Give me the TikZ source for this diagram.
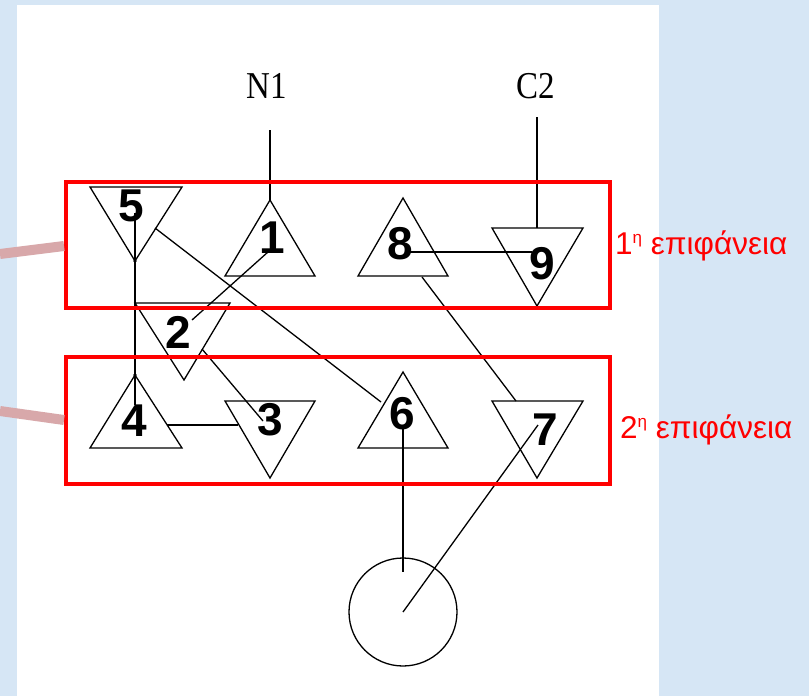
\documentclass[tikz,border=0pt]{standalone}
\usepackage{fontspec}
\setmainfont{Liberation Sans}
\newfontfamily\serifN{Liberation Serif}
\definecolor{bgblue}{RGB}{214,230,245}
\definecolor{pinkline}{RGB}{216,168,170}
\begin{document}
\begin{tikzpicture}[x=1pt,y=-1pt,
  tri/.style={draw=black,line width=1.3pt,line join=miter},
  wire/.style={draw=black,line width=1.3pt},
  thick wire/.style={draw=black,line width=1.8pt},
  num/.style={font=\fontsize{46}{52}\selectfont\bfseries,inner sep=0pt},
  surf/.style={draw=red,line width=4pt},
  pointer/.style={draw=pinkline,line width=10pt},
  lbl/.style={text=red,font=\fontsize{31.5}{36}\selectfont,anchor=base west,inner sep=0pt},
  term/.style={font=\serifN\fontsize{33}{40}\selectfont,inner sep=0pt,yscale=1.15}]
\fill[bgblue] (0,0) rectangle (809,696);
\fill[white] (17,5) rectangle (659,696);
\useasboundingbox (0,0) rectangle (809,696);

% triangles
\draw[tri] (90,187) -- (182,187) -- (135,261) -- cycle;   % 5
\draw[tri] (270,200) -- (315,276) -- (225,276) -- cycle;  % 1
\draw[tri] (135,303) -- (230,303) -- (184,380) -- cycle;  % 2
\draw[tri] (135,375) -- (182,448) -- (90,448) -- cycle;   % 4
\draw[tri] (225,401) -- (315,401) -- (270,478) -- cycle;  % 3
\draw[tri] (403,198) -- (448,276) -- (358,276) -- cycle;  % 8
\draw[tri] (492,228) -- (583,228) -- (537,306) -- cycle;  % 9
\draw[tri] (403,372) -- (448,448) -- (358,448) -- cycle;  % 6
\draw[tri] (492,401) -- (583,401) -- (537,478) -- cycle;  % 7

% circle
\node[draw=black,line width=1.3pt,circle,minimum size=108pt,inner sep=0pt] (c) at (403,612) {};

% connector endpoints
\coordinate (n1top) at (270,130);
\coordinate (t1a) at (270,200);
\coordinate (c2top) at (537,117);
\coordinate (t9t) at (537,228);
\coordinate (v5) at (135,213);
\coordinate (v4) at (135,405);
\coordinate (a1) at (268,252);
\coordinate (a2) at (192,320);
\coordinate (b5) at (155,228);
\coordinate (b6) at (381,402);
\coordinate (d2) at (202,349);
\coordinate (d3) at (263,421);
\coordinate (h4) at (167,425);
\coordinate (h3) at (238,425);
\coordinate (h8) at (410,252);
\coordinate (h9) at (532,252);
\coordinate (e8) at (422,277);
\coordinate (e7) at (516,401);
\coordinate (v6) at (403,427);
\coordinate (v6b) at (403,572);
\coordinate (f7) at (538,425);

\draw[thick wire] (n1top) -- (t1a);
\draw[thick wire] (c2top) -- (t9t);
\draw[thick wire] (v5) -- (v4);
\draw[wire] (a1) -- (a2);
\draw[wire] (b5) -- (b6);
\draw[wire] (d2) -- (d3);
\draw[thick wire] (h4) -- (h3);
\draw[thick wire] (h8) -- (h9);
\draw[wire] (e8) -- (e7);
\draw[thick wire] (v6) -- (v6b);
\draw[wire] (c.center) -- (f7);
\fill (135,261) circle (1.8pt);
\fill (135,375) circle (1.8pt);

% surfaces
\draw[surf] (66,182) rectangle (610,307.5);
\draw[surf] (66,357) rectangle (610,484);
\draw[pointer] (0,254) -- (64,246);
\draw[pointer] (0,411) -- (64,420);

% labels
\node[num] (n5) at (131,206) {5};
\node[num] (n1) at (272,238) {1};
\node[num] (n2) at (178,332) {2};
\node[num] (n4) at (134,421) {4};
\node[num] (n3) at (270,420) {3};
\node[num] (n8) at (400,244) {8};
\node[num] (n9) at (542,264) {9};
\node[num] (n6) at (402,414) {6};
\node[num] (n7) at (545,430) {7};

\node[term] (N1) at (267,86) {N1};
\node[term] (C2) at (536,86) {C2};

\node[lbl] (s1) at (615,254) {1{\fontsize{17}{20}\selectfont\raisebox{11pt}{η}} επιφάνεια};
\node[lbl] (s2) at (620,438) {2{\fontsize{17}{20}\selectfont\raisebox{11pt}{η}} επιφάνεια};
\end{tikzpicture}
\end{document}
